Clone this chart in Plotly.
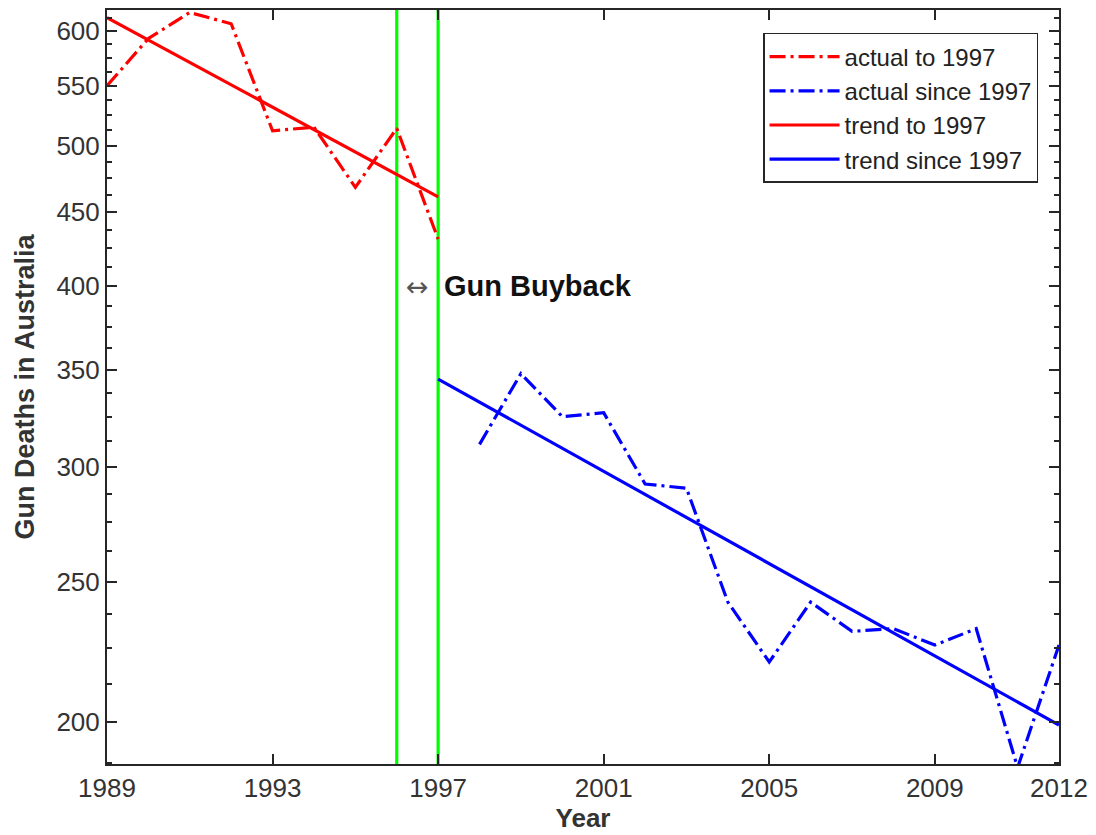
import math
import plotly.graph_objects as go

# ---- data ----
years_pre = [1989, 1990, 1991, 1992, 1993, 1994, 1995, 1996, 1997]
deaths_pre = [550, 593, 618, 607, 512, 515, 468, 514, 431]
years_post = [1998, 1999, 2000, 2001, 2002, 2003, 2004, 2005, 2006, 2007, 2008, 2009, 2010, 2011, 2012]
deaths_post = [311, 348, 325, 327, 292, 290, 242, 220, 242, 231, 232, 226, 232, 186, 226]
trend_pre_years = [1989, 1997]
trend_pre = [613, 461]
trend_post_years = [1997, 2012]
trend_post = [345, 199]
buyback_years = [1996, 1997]
label_value = 400

x_ticks = [1989, 1993, 1997, 2001, 2005, 2009, 2012]
y_ticks = [200, 250, 300, 350, 400, 450, 500, 550, 600]
y_minor = [v for v in [187.5 + 12.5 * i for i in range(35)] if v % 50 != 0 and v < 618]

FONT = "Liberation Sans, Arial, Helvetica, sans-serif"
AX = "#262626"
dashdot = "16px,5px,3px,5px"

fig = go.Figure()
fig.add_trace(go.Scatter(x=years_pre, y=deaths_pre, mode="lines", name="actual to 1997",
                         line=dict(color="#ff0000", width=3.2, dash=dashdot)))
fig.add_trace(go.Scatter(x=years_post, y=deaths_post, mode="lines", name="actual since 1997",
                         line=dict(color="#0000ff", width=3.2, dash=dashdot)))
fig.add_trace(go.Scatter(x=trend_pre_years, y=trend_pre, mode="lines", name="trend to 1997",
                         line=dict(color="#ff0000", width=3.2)))
fig.add_trace(go.Scatter(x=trend_post_years, y=trend_post, mode="lines", name="trend since 1997",
                         line=dict(color="#0000ff", width=3.2)))

for yr in buyback_years:
    fig.add_shape(type="line", x0=yr, x1=yr, y0=0, y1=1, xref="x", yref="paper",
                  line=dict(color="#00ff00", width=3.2), layer="below")

# annotations on a log axis take log10 positions
fig.add_annotation(x=(buyback_years[0] + buyback_years[1]) / 2, y=math.log10(label_value),
                   xref="x", yref="y", text="↔", showarrow=False,
                   font=dict(family="DejaVu Sans, sans-serif", size=27, color="#555555"))
fig.add_annotation(x=1997.1, y=math.log10(label_value), xref="x", yref="y", xanchor="left",
                   text="<b>Gun Buyback</b>", showarrow=False,
                   font=dict(family=FONT, size=29, color="#111111"))

# page body has an 8px margin: the figure is sized/offset to compensate
fig.update_layout(
    width=1088, height=827,
    margin=dict(l=99, r=37, t=2, b=71, autoexpand=False),
    paper_bgcolor="white", plot_bgcolor="white",
    font=dict(family=FONT, size=24, color=AX),
    showlegend=True,
    legend=dict(x=0.978, y=0.9695, xanchor="right", yanchor="top",
                bordercolor=AX, borderwidth=1.5, bgcolor="white",
                font=dict(family=FONT, size=24, color="#222222"),
                tracegroupgap=0, itemwidth=70),
)
fig.update_xaxes(
    range=[1989, 2012], tickvals=x_ticks, ticktext=[str(v) for v in x_ticks],
    ticks="inside", ticklen=10, tickwidth=1.5, tickcolor=AX,
    showline=True, linecolor=AX, linewidth=2, mirror="allticks",
    showgrid=False, zeroline=False, automargin=False,
    tickfont=dict(family=FONT, size=26, color="#333333"),
    title=dict(text="<b>Year</b>", font=dict(family=FONT, size=26, color="#333333"), standoff=6),
)
fig.update_yaxes(
    type="log", range=[2.2720, 2.7927], tickvals=y_ticks, ticktext=[str(v) for v in y_ticks],
    ticks="inside", ticklen=10, tickwidth=1.5, tickcolor=AX,
    minor=dict(tickvals=y_minor, ticks="inside", ticklen=5, tickwidth=1.5, tickcolor=AX, showgrid=False),
    showline=True, linecolor=AX, linewidth=2, mirror="allticks",
    showgrid=False, zeroline=False, automargin=False,
    tickfont=dict(family=FONT, size=26, color="#333333"),
    title=dict(text="<b>Gun Deaths in Australia</b>", font=dict(family=FONT, size=27, color="#333333"), standoff=14),
)

fig.write_html("out.html")
